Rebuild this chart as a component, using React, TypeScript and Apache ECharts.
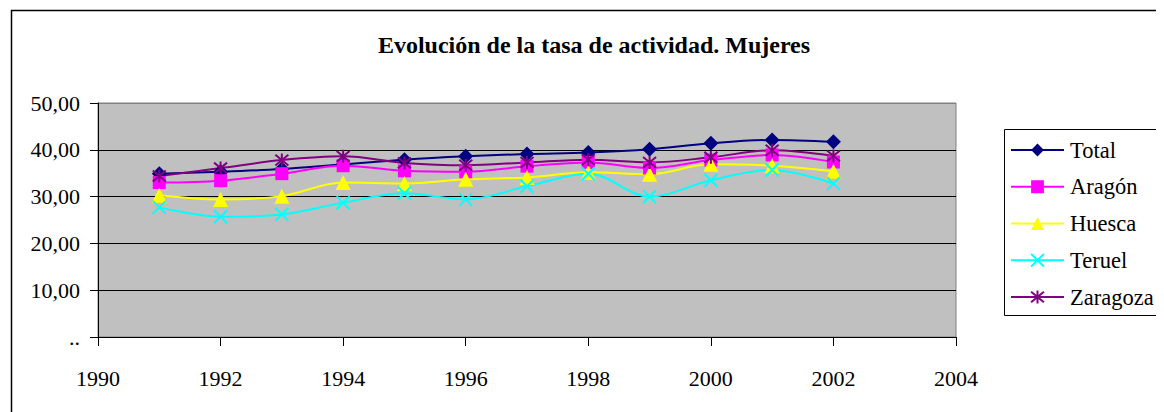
import React, { useEffect, useRef } from "react";
import * as echarts from "echarts";

const years = [1991, 1992, 1993, 1994, 1995, 1996, 1997, 1998, 1999, 2000, 2001, 2002];
const total = [34.9, 35.3, 35.9, 36.9, 37.9, 38.6, 39.1, 39.4, 40.1, 41.4, 42.1, 41.7];
const aragon = [33.0, 33.4, 34.9, 36.6, 35.5, 35.3, 36.5, 37.3, 36.1, 37.8, 38.9, 37.4];
const huesca = [30.3, 29.4, 30.1, 33.0, 32.8, 33.7, 34.1, 35.2, 34.8, 36.9, 36.6, 35.4];
const teruel = [27.7, 25.7, 26.2, 28.7, 30.7, 29.4, 32.2, 34.9, 30.0, 33.5, 35.7, 32.8];
const zaragoza = [34.4, 36.1, 37.8, 38.6, 37.2, 36.7, 37.3, 37.9, 37.3, 38.4, 39.9, 38.7];

const seriesNames = ["Total", "Aragón", "Huesca", "Teruel", "Zaragoza"];
const yTicks = [0, 10, 20, 30, 40, 50];
const xTicks = [1990, 1992, 1994, 1996, 1998, 2000, 2002, 2004];

const FONT = "'Liberation Serif', 'Times New Roman', serif";

export default function App() {
  const ref = useRef<HTMLDivElement>(null);
  useEffect(() => {
    if (!ref.current) return;
    const chart = echarts.init(ref.current, null, { renderer: "svg" });
    const pair = (vals: number[]) => years.map((y, i) => [y, vals[i]]);
    const specs = [
      { name: seriesNames[0], data: total, color: "#000080", symbol: "diamond", size: 15, stroke: false },
      { name: seriesNames[1], data: aragon, color: "#FF00FF", symbol: "rect", size: 13, stroke: false },
      { name: seriesNames[2], data: huesca, color: "#FFFF00", symbol: "triangle", size: 15, stroke: false },
      { name: seriesNames[3], data: teruel, color: "#00FFFF", symbol: "path://M0,0L10,10M10,0L0,10", size: 13, stroke: true },
      { name: seriesNames[4], data: zaragoza, color: "#800080", symbol: "path://M0,0L10,10M10,0L0,10M5,-1L5,11", size: 13, stroke: true },
    ];
    chart.setOption({
      animation: false,
      backgroundColor: "#ffffff",
      textStyle: { fontFamily: FONT },
      title: {
        text: "Evolución de la tasa de actividad. Mujeres",
        left: 581,
        top: 20,
        textAlign: "center",
        textStyle: { fontFamily: FONT, fontSize: 24, fontWeight: "bold", color: "#000" },
      },
      graphic: [
        {
          type: "rect",
          left: 1,
          top: 0,
          shape: { width: 1300, height: 500 },
          style: { fill: "none", stroke: "#000", lineWidth: 1.5 },
          silent: true,
        },
        {
          type: "rect",
          left: 994,
          top: 119,
          shape: { width: 160, height: 186 },
          style: { fill: "none", stroke: "#000", lineWidth: 1 },
          silent: true,
        },
      ],
      legend: {
        orient: "vertical",
        left: 1002,
        top: 130,
        padding: 0,
        itemGap: 12.75,
        itemWidth: 53,
        itemHeight: 16,
        textStyle: { fontFamily: FONT, fontSize: 22.5, color: "#000", lineHeight: 24, padding: [0, 0, 0, 1] },
        data: seriesNames,
      },
      grid: {
        left: 90,
        top: 95,
        right: 208,
        bottom: 75,
        show: true,
        backgroundColor: "#C0C0C0",
        borderColor: "#808080",
        borderWidth: 1,
      },
      xAxis: {
        type: "value",
        min: xTicks[0],
        max: xTicks[xTicks.length - 1],
        interval: 2,
        splitLine: { show: false },
        axisLine: { show: true, onZero: false, lineStyle: { color: "#000", width: 1 } },
        axisTick: { show: true, inside: false, length: 9, lineStyle: { color: "#000" } },
        axisLabel: {
          fontFamily: FONT,
          fontSize: 22,
          color: "#000",
          margin: 30,
          formatter: (v: number) => String(v),
        },
      },
      yAxis: {
        type: "value",
        min: yTicks[0],
        max: yTicks[yTicks.length - 1],
        interval: 10,
        splitLine: {
          show: true,
          lineStyle: { color: ["#000", "#000", "#000", "#000", "#000", "#808080"], width: 1 },
        },
        axisLine: { show: true, lineStyle: { color: "#000", width: 1 } },
        axisTick: { show: true, inside: false, length: 8, lineStyle: { color: "#000" } },
        axisLabel: {
          fontFamily: FONT,
          fontSize: 22,
          color: "#000",
          margin: 18,
          formatter: (v: number) => (v === 0 ? ".." : v.toFixed(2).replace(".", ",")),
        },
      },
      series: specs.map((s) => ({
        name: s.name,
        type: "line",
        data: pair(s.data),
        smooth: 0.35,
        symbol: s.symbol,
        symbolSize: s.size,
        showAllSymbol: true,
        lineStyle: { color: s.color, width: 2 },
        itemStyle: s.stroke
          ? { color: s.color, borderColor: s.color, borderWidth: 2 }
          : { color: s.color, borderWidth: 0 },
      })),
    });
    return () => chart.dispose();
  }, []);
  return <div ref={ref} style={{ width: 1156, height: 404 }} />;
}
